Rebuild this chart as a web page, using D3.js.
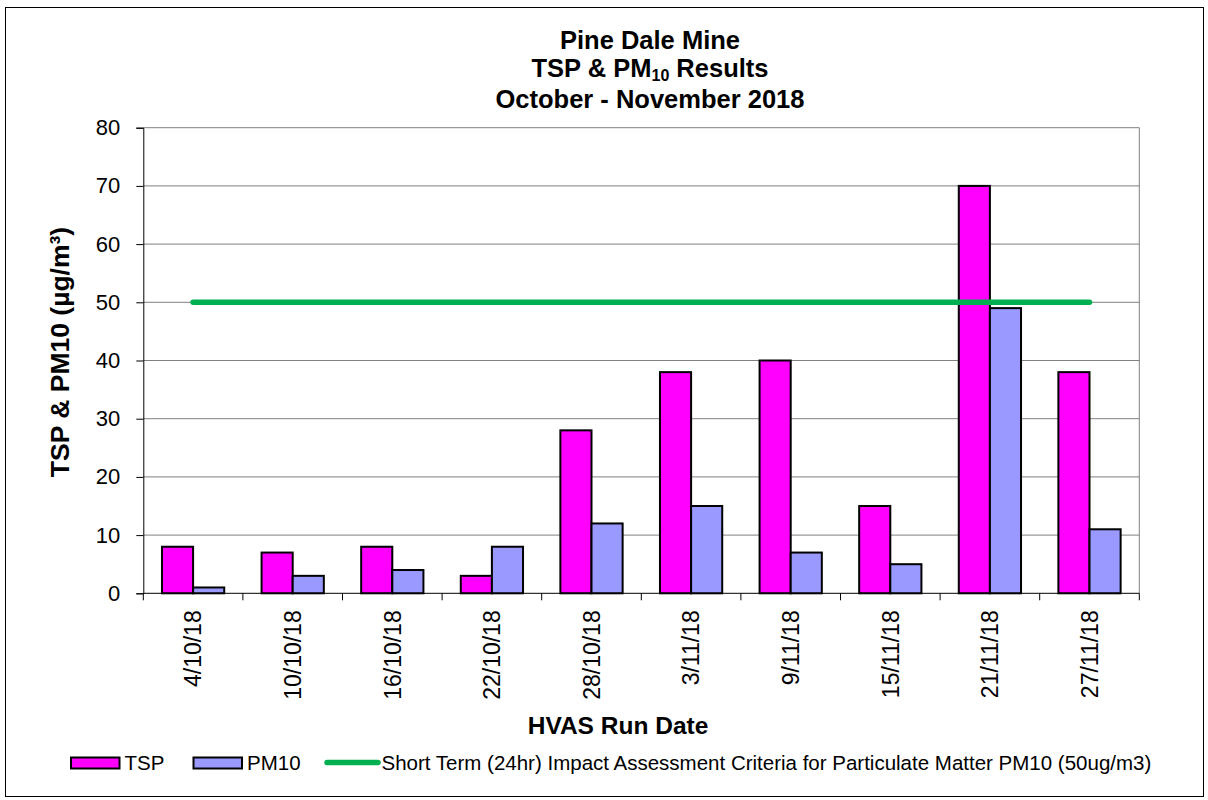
<!DOCTYPE html>
<html>
<head>
  <meta charset="UTF-8"/>
  <title>Pine Dale Mine TSP & PM10</title>
  <style>
    body {
      margin: 0;
      background: #fff;
      font-family: 'Liberation Sans', Arial, sans-serif;
    }
    .grid line { stroke: #808080; stroke-width: 1; }
    .axis path, .axis line { stroke: #000; }
    .axis text { font-family: 'Liberation Sans', Arial, sans-serif; fill: #000; }
    .bar { stroke: #000; stroke-width: 2; }
    .title { font-weight: bold; font-size: 25.5px; }
  </style>
  <script src="https://d3js.org/d3.v7.min.js"></script>
</head>
<body>
<svg width="1208" height="800"></svg>
<script>
// data
var dates = ["4/10/18", "10/10/18", "16/10/18", "22/10/18", "28/10/18",
             "3/11/18", "9/11/18", "15/11/18", "21/11/18", "27/11/18"];
var tsp  = [8, 7, 8, 3, 28, 38, 40, 15, 70, 38];
var pm10 = [1, 3, 4, 8, 12, 15, 7, 5, 49, 11];
var criteria = 50;
var yTicks = [0, 10, 20, 30, 40, 50, 60, 70, 80];
var seriesNames = ["TSP", "PM10"];
var colors = { "TSP": "#ff00ff", "PM10": "#9999ff" };
var lineColor = "#00b050";
var criteriaLabel = "Short Term (24hr) Impact Assessment Criteria for Particulate Matter PM10 (50ug/m3)";

var svg = d3.select("svg");
var margin = {top: 127.7, right: 68.7, bottom: 206.7, left: 143.3},
    width = 1208 - margin.left - margin.right,
    height = 800 - margin.top - margin.bottom;

// outer frame
svg.append("rect")
  .attr("x", 5.5).attr("y", 7.5)
  .attr("width", 1198).attr("height", 789)
  .attr("fill", "none")
  .attr("stroke", "#000")
  .attr("stroke-width", 1);

var g = svg.append("g")
  .attr("transform", "translate(" + margin.left + "," + margin.top + ")");

var x = d3.scaleBand().domain(dates).range([0, width]).padding(0);
var x1 = d3.scaleBand().domain(seriesNames).range([0, x.bandwidth()])
  .paddingInner(0).paddingOuter(0.6);
var y = d3.scaleLinear().domain([0, 80]).range([height, 0]);

// gridlines
g.append("g").attr("class", "grid")
  .selectAll("line")
  .data(yTicks.filter(function(d) { return d > 0; }))
  .enter().append("line")
    .attr("x1", 0).attr("x2", width)
    .attr("y1", function(d) { return y(d); })
    .attr("y2", function(d) { return y(d); });

// plot area right border
g.append("line")
  .attr("x1", width).attr("x2", width)
  .attr("y1", 0).attr("y2", height)
  .attr("stroke", "#808080");

// bars
var rows = dates.map(function(d, i) {
  return { date: d, values: [{key: "TSP", v: tsp[i]}, {key: "PM10", v: pm10[i]}] };
});

g.selectAll(".grp")
  .data(rows)
  .enter().append("g")
    .attr("class", "grp")
    .attr("transform", function(d) { return "translate(" + x(d.date) + ",0)"; })
  .selectAll("rect")
  .data(function(d) { return d.values; })
  .enter().append("rect")
    .attr("class", "bar")
    .attr("x", function(d) { return x1(d.key); })
    .attr("y", function(d) { return y(d.v); })
    .attr("width", x1.bandwidth())
    .attr("height", function(d) { return height - y(d.v); })
    .attr("fill", function(d) { return colors[d.key]; });

// criteria line
var line = d3.line()
  .x(function(d) { return x(d) + x.bandwidth() / 2; })
  .y(function() { return y(criteria); });

g.append("path")
  .datum([dates[0], dates[dates.length - 1]])
  .attr("d", line)
  .attr("fill", "none")
  .attr("stroke", lineColor)
  .attr("stroke-width", 5.5)
  .attr("stroke-linecap", "round");

// y axis
var yAxis = g.append("g")
  .attr("class", "axis")
  .call(d3.axisLeft(y).tickValues(yTicks).tickSize(7).tickPadding(16));
yAxis.selectAll("text").style("font-size", "22px");

// x axis with ticks at category boundaries
var xAxis = g.append("g")
  .attr("class", "axis")
  .attr("transform", "translate(0," + height + ")");
xAxis.append("line")
  .attr("x1", 0).attr("x2", width)
  .attr("stroke", "#000");
xAxis.selectAll(".bt")
  .data(d3.range(dates.length + 1))
  .enter().append("line")
    .attr("class", "bt")
    .attr("x1", function(i) { return i * x.step(); })
    .attr("x2", function(i) { return i * x.step(); })
    .attr("y1", 0).attr("y2", 7)
    .attr("stroke", "#000");
xAxis.selectAll(".lbl")
  .data(dates)
  .enter().append("text")
    .attr("class", "lbl")
    .attr("transform", function(d) {
      return "translate(" + (x(d) + x.bandwidth() / 2) + ",17) rotate(-90)";
    })
    .attr("dy", "0.36em")
    .attr("text-anchor", "end")
    .style("font-size", "23px")
    .text(function(d) { return d; });

// titles
svg.append("text")
  .attr("class", "title")
  .attr("x", 650).attr("y", 49)
  .attr("text-anchor", "middle")
  .text("Pine Dale Mine");

var t2 = svg.append("text")
  .attr("class", "title")
  .attr("x", 650).attr("y", 77)
  .attr("text-anchor", "middle");
t2.append("tspan").text("TSP & PM");
t2.append("tspan").attr("dy", 4).style("font-size", "16px").text("10");
t2.append("tspan").attr("dy", -4).text(" Results");

svg.append("text")
  .attr("class", "title")
  .attr("x", 650).attr("y", 107.5)
  .attr("text-anchor", "middle")
  .text("October - November 2018");

svg.append("text")
  .attr("x", 618)
  .attr("y", 734)
  .attr("text-anchor", "middle")
  .style("font-weight", "bold")
  .style("font-size", "24.5px")
  .text("HVAS Run Date");

svg.append("text")
  .attr("transform", "translate(69,352) rotate(-90)")
  .attr("text-anchor", "middle")
  .style("font-weight", "bold")
  .style("font-size", "26.5px")
  .text("TSP & PM10 (µg/m³)");

// legend
var legend = svg.append("g").attr("transform", "translate(0,763)");
var swatchX = [71, 193.5];
seriesNames.forEach(function(s, i) {
  legend.append("rect")
    .attr("x", swatchX[i]).attr("y", -5.5)
    .attr("width", 48.5).attr("height", 11)
    .attr("fill", colors[s])
    .attr("stroke", "#000")
    .attr("stroke-width", 2);
  legend.append("text")
    .attr("x", swatchX[i] + 53.5).attr("y", 7)
    .style("font-size", "20.5px")
    .text(s);
});
legend.append("line")
  .attr("x1", 327).attr("x2", 378)
  .attr("y1", -0.5).attr("y2", -0.5)
  .attr("stroke", lineColor)
  .attr("stroke-width", 5.5)
  .attr("stroke-linecap", "round");
legend.append("text")
  .attr("x", 381.5).attr("y", 7)
  .style("font-size", "20.5px")
  .text(criteriaLabel);
</script>
</body>
</html>
